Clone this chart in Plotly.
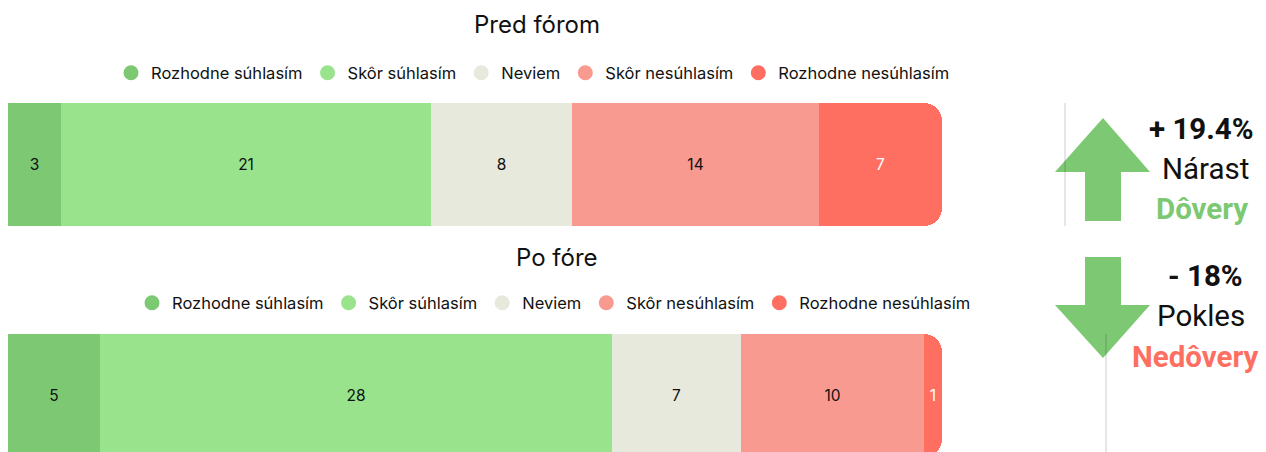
import plotly.graph_objects as go

categories = ["Rozhodne súhlasím", "Skôr súhlasím", "Neviem", "Skôr nesúhlasím", "Rozhodne nesúhlasím"]
colors = ["#7DC873", "#98E38C", "#E8E9DD", "#F99A90", "#FF6F61"]
text_colors = ["#111111", "#111111", "#111111", "#111111", "#FFFFFF"]
before_values = [3, 21, 8, 14, 7]
after_values = [5, 28, 7, 10, 1]
titles = ["Pred fórom", "Po fóre"]

OFF = 8  # page body margin
W, H = 1266 - OFF, 452 - OFF
def px(x): return (x - OFF) / W
def py(y): return 1 - (y - OFF) / H

fig = go.Figure()

groups = [(before_values, "x", "y", "legend"), (after_values, "x2", "y2", "legend2")]
for vals, xa, ya, lg in groups:
    for cat, col, tc, v in zip(categories, colors, text_colors, vals):
        fig.add_trace(go.Bar(
            y=[0], x=[v], orientation="h", name=cat, xaxis=xa, yaxis=ya,
            marker=dict(color=col, line=dict(width=0)), width=1,
            text=[str(v)], textposition="inside", insidetextanchor="middle",
            textangle=0, constraintext="none",
            textfont=dict(family="Inter", size=15.5, color=tc),
            showlegend=False, hoverinfo="skip"))
    for cat, col in zip(categories, colors):
        fig.add_trace(go.Scatter(
            x=[None], y=[None], mode="markers", name=cat, xaxis=xa, yaxis=ya,
            marker=dict(color=col, size=15, symbol="circle"),
            showlegend=True, legend=lg))

fig.update_layout(
    width=W, height=H, margin=dict(l=0, r=0, t=0, b=0),
    paper_bgcolor="white", plot_bgcolor="white",
    barmode="stack", barcornerradius=18, bargap=0,
    font=dict(family="Inter", color="#111111"),
    xaxis=dict(domain=[px(8), px(942)], range=[0, sum(before_values)], visible=False, fixedrange=True),
    yaxis=dict(domain=[py(226), py(103)], range=[-0.5, 0.5], visible=False),
    xaxis2=dict(domain=[px(8), px(942)], range=[0, sum(after_values)], visible=False, anchor="y2"),
    yaxis2=dict(domain=[0, py(334)], range=[-0.5 + 5 / 123, 0.5], visible=False, anchor="x2"),
    legend=dict(orientation="h", x=px(533), xanchor="center", y=py(73), yanchor="middle",
                font=dict(family="Inter", size=16.5, color="#111111"), itemwidth=30,
                traceorder="normal", bgcolor="rgba(0,0,0,0)"),
    legend2=dict(orientation="h", x=px(554), xanchor="center", y=py(303), yanchor="middle",
                 font=dict(family="Inter", size=16.5, color="#111111"), itemwidth=30,
                 traceorder="normal", bgcolor="rgba(0,0,0,0)"),
)

# titles
fig.add_annotation(text=titles[0], x=px(537), y=py(25), xref="paper", yref="paper",
                   xanchor="center", yanchor="middle", showarrow=False,
                   font=dict(family="Inter", size=24, color="#111111"))
fig.add_annotation(text=titles[1], x=px(557), y=py(257), xref="paper", yref="paper",
                   xanchor="center", yanchor="middle", showarrow=False,
                   font=dict(family="Inter", size=24, color="#111111"))

# arrows
green = "#7DC873"
up = (f"M {px(1103)} {py(118)} L {px(1150)} {py(172)} L {px(1121)} {py(172)} "
      f"L {px(1121)} {py(221)} L {px(1085)} {py(221)} L {px(1085)} {py(172)} "
      f"L {px(1055)} {py(172)} Z")
down = (f"M {px(1085)} {py(257)} L {px(1121)} {py(257)} L {px(1121)} {py(305)} "
        f"L {px(1150)} {py(305)} L {px(1103)} {py(358)} L {px(1055)} {py(305)} "
        f"L {px(1085)} {py(305)} Z")
for p in (up, down):
    fig.add_shape(type="path", path=p, xref="paper", yref="paper",
                  fillcolor=green, line=dict(width=0))
fig.add_shape(type="line", x0=px(1065), x1=px(1065), y0=py(103), y1=py(226),
              xref="paper", yref="paper", line=dict(color="rgba(0,0,0,0.2)", width=1))
fig.add_shape(type="line", x0=px(1106), x1=px(1106), y0=py(334), y1=py(460),
              xref="paper", yref="paper", line=dict(color="rgba(0,0,0,0.2)", width=1))

side = [
    ("<b>+ 19.4%</b>", 1201, 129, "#111111"),
    ("Nárast", 1205, 169, "#111111"),
    ("<b>Dôvery</b>", 1202, 209, "#7DC873"),
    ("<b>- 18%</b>", 1205, 276, "#111111"),
    ("Pokles", 1201, 316, "#111111"),
    ("<b>Nedôvery</b>", 1195, 357, "#FF6F61"),
]
for t, x, y, c in side:
    fig.add_annotation(text=t, x=px(x), y=py(y), xref="paper", yref="paper",
                       xanchor="center", yanchor="middle", showarrow=False,
                       font=dict(family="Roboto", size=29.5, color=c))

fig.write_html("out.html")
